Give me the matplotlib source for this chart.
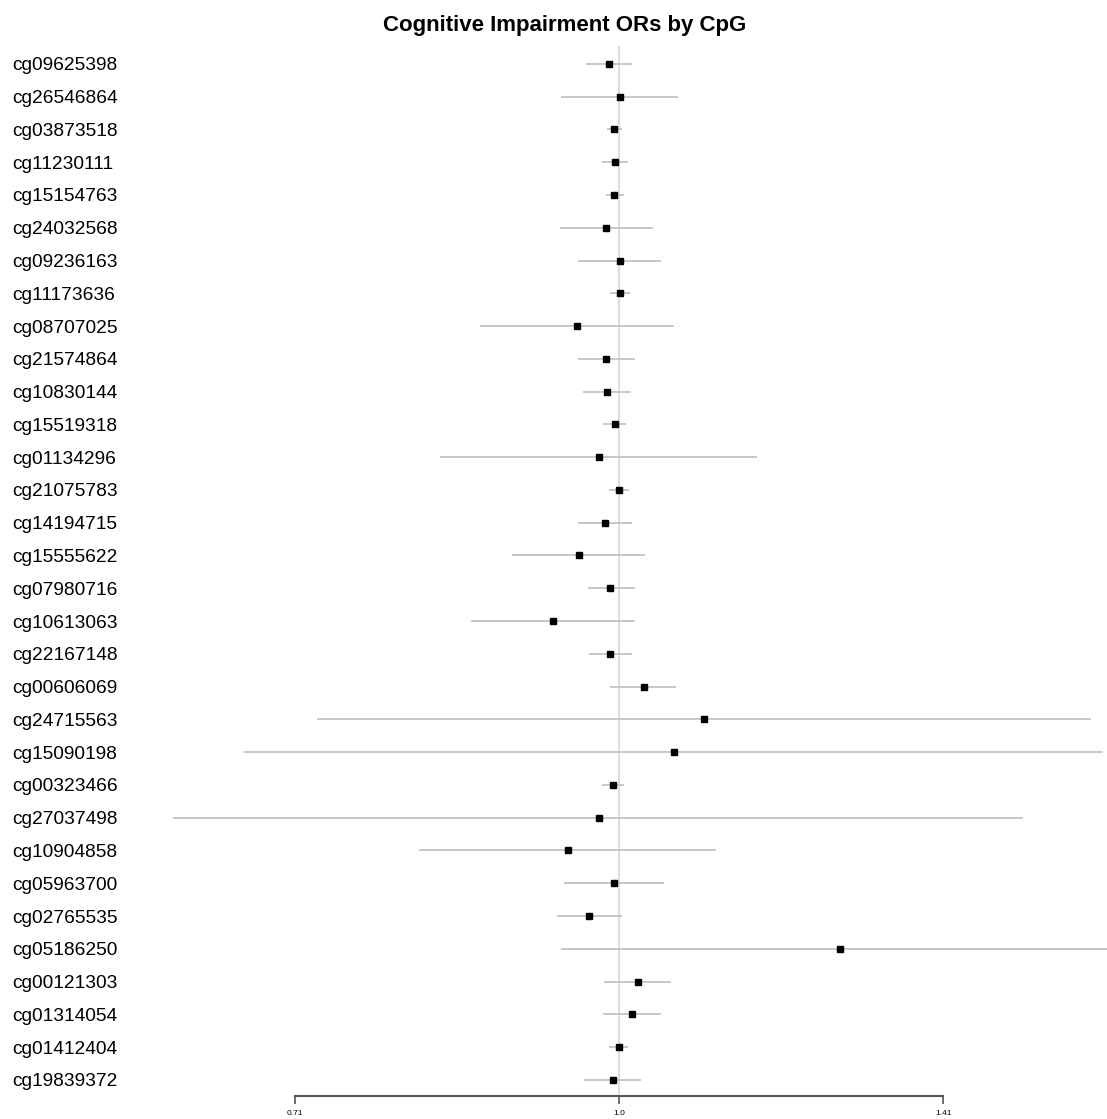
import numpy as np
import matplotlib
matplotlib.use('Agg')
import matplotlib.pyplot as plt
from matplotlib.transforms import blended_transform_factory

plt.rcParams['font.family'] = ['Liberation Sans', 'DejaVu Sans']

# CpG sites, top to bottom
cpgs = ['cg09625398', 'cg26546864', 'cg03873518', 'cg11230111', 'cg15154763',
        'cg24032568', 'cg09236163', 'cg11173636', 'cg08707025', 'cg21574864',
        'cg10830144', 'cg15519318', 'cg01134296', 'cg21075783', 'cg14194715',
        'cg15555622', 'cg07980716', 'cg10613063', 'cg22167148', 'cg00606069',
        'cg24715563', 'cg15090198', 'cg00323466', 'cg27037498', 'cg10904858',
        'cg05963700', 'cg02765535', 'cg05186250', 'cg00121303', 'cg01314054',
        'cg01412404', 'cg19839372']

# odds ratios and 95% CI
odds = [0.989, 1.001, 0.995, 0.996, 0.995, 0.986, 1.001, 1.001, 0.956, 0.986,
        0.987, 0.996, 0.979, 1.000, 0.985, 0.958, 0.991, 0.932, 0.991, 1.027,
        1.095, 1.061, 0.994, 0.979, 0.947, 0.995, 0.968, 1.267, 1.021, 1.014,
        1.000, 0.994]
ci_low = [0.965, 0.940, 0.987, 0.982, 0.986, 0.939, 0.957, 0.990, 0.862, 0.957,
          0.962, 0.983, 0.826, 0.989, 0.957, 0.892, 0.967, 0.854, 0.968, 0.991,
          0.724, 0.670, 0.982, 0.621, 0.808, 0.943, 0.936, 0.940, 0.984, 0.983,
          0.989, 0.963]
ci_high = [1.014, 1.065, 1.003, 1.010, 1.005, 1.037, 1.046, 1.012, 1.061, 1.017,
           1.013, 1.008, 1.159, 1.011, 1.014, 1.028, 1.017, 1.017, 1.014, 1.063,
           1.657, 1.678, 1.005, 1.541, 1.109, 1.049, 1.003, 1.75, 1.057, 1.046,
           1.010, 1.024]

tick_vals = [2 ** -0.5, 1.0, 2 ** 0.5]
tick_labels = ['0.71', '1.0', '1.41']

fig = plt.figure(figsize=(11.07, 11.19), dpi=100)
ax = fig.add_axes([0, 0.0206, 1, 0.9437])
ax.set_xscale('log')
ax.set_xlim(0.516, 1.685)
n = len(cpgs)
ax.set_ylim(n - 1 + 0.49, -0.73)

y = np.arange(n)
# reference line at OR = 1
ax.plot([1, 1], [-0.5, n - 1 + 0.49], color='#dedede', lw=1.6, zorder=1)
ax.hlines(y, ci_low, ci_high, color='#c4c4c4', lw=1.3, zorder=2)
ax.plot(odds, y, 's', color='black', ms=4.6, zorder=3)

# labels
trans = blended_transform_factory(fig.transFigure, ax.transData)
for i, name in enumerate(cpgs):
    ax.text(12 / 1107, i, name, transform=trans, ha='left', va='center_baseline',
            fontsize=13.8, color='black')

for s in ['top', 'left', 'right']:
    ax.spines[s].set_visible(False)
ax.spines['bottom'].set_bounds(tick_vals[0], tick_vals[-1])
ax.spines['bottom'].set_color('#555555')
ax.spines['bottom'].set_linewidth(1.5)
ax.set_yticks([])
ax.xaxis.set_minor_locator(matplotlib.ticker.NullLocator())
ax.set_xticks(tick_vals)
ax.set_xticklabels(tick_labels)
ax.tick_params(axis='x', direction='out', length=6, width=1.2, color='#555555',
               labelsize=6, pad=4)

fig.text(565 / 1107, 1 - 25 / 1119, 'Cognitive Impairment ORs by CpG',
         ha='center', va='center', fontsize=16, fontweight='bold')

fig.savefig('out.png', dpi=100)
